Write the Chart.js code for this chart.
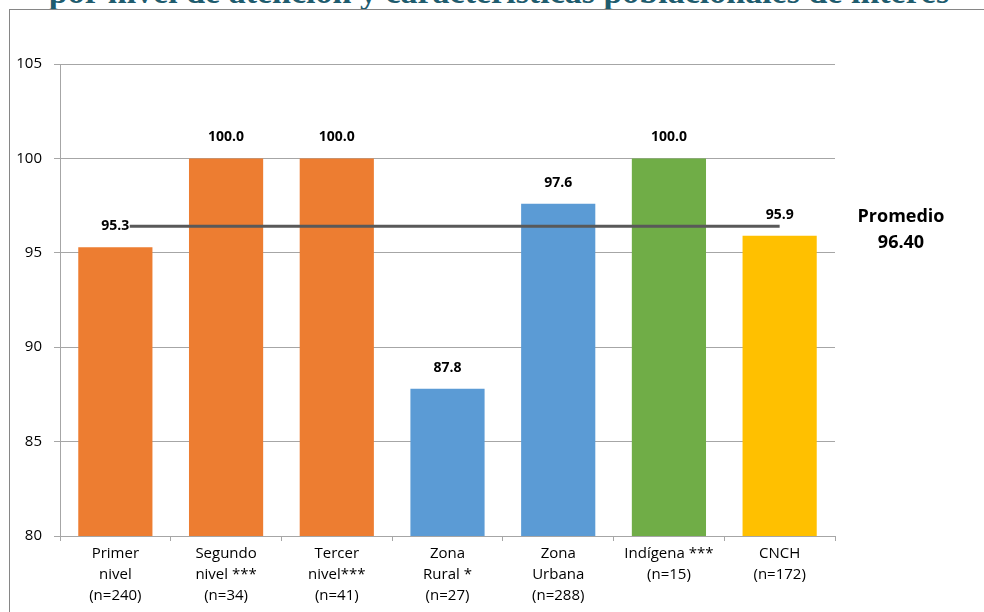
<!DOCTYPE html>
<html>
<head>
<meta charset="utf-8">
<script src="https://cdn.jsdelivr.net/npm/chart.js@4"></script>
<style>
    html, body { margin: 0; padding: 0; background: #fff; overflow: hidden; }
    body { width: 984px; height: 612px; position: relative; }
    #frame {
        position: absolute; left: 9px; top: 9px;
        width: 1100px; height: 700px;
        border: 1px solid #868686;
    }
    #title {
        position: absolute; left: 0; width: 998px; top: -25.5px;
        text-align: center; white-space: nowrap;
        font: bold 34px "Liberation Serif", serif; line-height: 34px;
        color: #1F5C6E;
    }
    #chart { position: absolute; left: 0; top: 0; }
</style>
</head>
<body>
<div id="title">por nivel de atención y características poblacionales de interés</div>
<div id="frame"></div>
<canvas id="chart" width="984" height="612"></canvas>
<script>
const categories = [
    ['Primer', 'nivel', '(n=240)'],
    ['Segundo', 'nivel ***', '(n=34)'],
    ['Tercer', 'nivel***', '(n=41)'],
    ['Zona', 'Rural *', '(n=27)'],
    ['Zona', 'Urbana', '(n=288)'],
    ['Indígena ***', '(n=15)'],
    ['CNCH', '(n=172)']
];
const values = [95.3, 100.0, 100.0, 87.8, 97.6, 100.0, 95.9];
const barColors = ['#ED7D31', '#ED7D31', '#ED7D31', '#5B9BD5', '#5B9BD5', '#70AD47', '#FFC000'];
const promedio = 96.40;
// the average line runs from just right of the first bar to the centre of the last one
const promedioDesde = 0.13;
const promedioHasta = 6;
const yTicks = [80, 85, 90, 95, 100, 105];

const FONT = '"Open Sans", "Liberation Sans", sans-serif';
const gridColor = '#A6A6A6';

// value labels above the bars
const barLabels = {
    id: 'barLabels',
    afterDatasetsDraw(chart) {
        const ctx = chart.ctx;
        const meta = chart.getDatasetMeta(0);
        ctx.save();
        ctx.font = 'bold 14px ' + FONT;
        ctx.fillStyle = '#000';
        ctx.textAlign = 'center';
        ctx.textBaseline = 'middle';
        meta.data.forEach((bar, i) => {
            ctx.fillText(values[i].toFixed(1), bar.x, bar.y - 21);
        });
        ctx.restore();
    }
};

// "Promedio" note at the right of the plot
const promedioNote = {
    id: 'promedioNote',
    afterDraw(chart) {
        const ctx = chart.ctx;
        const y = chart.scales.y.getPixelForValue(promedio);
        const x = chart.chartArea.right + 66;
        ctx.save();
        ctx.font = 'bold 18px ' + FONT;
        ctx.fillStyle = '#000';
        ctx.textAlign = 'center';
        ctx.textBaseline = 'middle';
        ctx.fillText('Promedio', x, y - 9);
        ctx.fillText(promedio.toFixed(2), x, y + 17);
        ctx.restore();
    }
};

new Chart(document.getElementById('chart'), {
    type: 'bar',
    data: {
        labels: categories,
        datasets: [
            {
                type: 'bar',
                data: values,
                backgroundColor: barColors,
                barPercentage: 0.67,
                categoryPercentage: 1,
                grouped: false,
                order: 2
            },
            {
                type: 'line',
                xAxisID: 'x2',
                data: [
                    { x: promedioDesde, y: promedio },
                    { x: promedioHasta, y: promedio }
                ],
                borderColor: '#595959',
                borderWidth: 3,
                pointRadius: 0,
                fill: false,
                order: 1
            }
        ]
    },
    options: {
        responsive: false,
        animation: false,
        layout: { padding: { top: 64, right: 149, bottom: 0, left: 0 } },
        plugins: {
            legend: { display: false },
            tooltip: { enabled: false }
        },
        scales: {
            x: {
                grid: {
                    offset: true,
                    drawOnChartArea: false,
                    drawTicks: true,
                    tickLength: 5,
                    color: gridColor
                },
                border: { color: gridColor },
                ticks: {
                    color: '#000',
                    padding: 2,
                    maxRotation: 0,
                    autoSkip: false,
                    font: { family: FONT, size: 15, lineHeight: 1.4 }
                },
                afterFit(scale) { scale.height = 76; }
            },
            x2: {
                type: 'linear',
                display: false,
                offset: false,
                min: -0.5,
                max: 6.5
            },
            y: {
                min: 80,
                max: 105,
                afterBuildTicks(scale) { scale.ticks = yTicks.map(v => ({ value: v })); },
                grid: { color: gridColor, tickLength: 6 },
                border: { color: gridColor },
                ticks: {
                    color: '#000',
                    padding: 12,
                    font: { family: FONT, size: 15 }
                },
                afterFit(scale) { scale.width = 60; }
            }
        }
    },
    plugins: [barLabels, promedioNote]
});
</script>
</body>
</html>
